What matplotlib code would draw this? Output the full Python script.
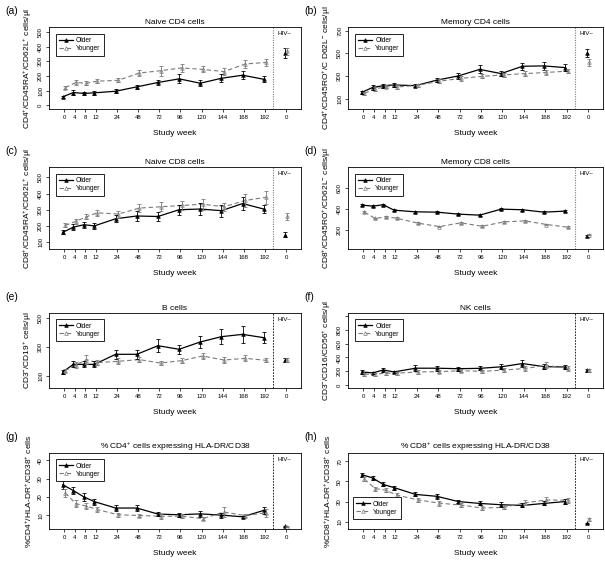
import numpy as np
import matplotlib
matplotlib.use('Agg')
from matplotlib import pyplot as plt

plt.rcParams['font.family'] = ['Liberation Sans', 'DejaVu Sans']
plt.rcParams['mathtext.default'] = 'regular'

weeks = [0, 4, 8, 12, 24, 48, 72, 96, 120, 144, 168, 192]
week_labels = [str(w) for w in weeks] + ['0']

# (a) naive CD4
naive_cd4_older = [57, 86, 80, 84, 95, 125, 155, 180, 150, 184, 205, 177, 359]
naive_cd4_older_se = [8, 15, 12, 12, 12, 15, 20, 30, 22, 28, 28, 20, 35]
naive_cd4_younger = [120, 155, 150, 164, 170, 220, 236, 255, 245, 230, 282, 293, 368]
naive_cd4_younger_se = [12, 18, 15, 15, 15, 20, 35, 25, 20, 22, 25, 22, 25]

# (b) memory CD4
mem_cd4_older = [155, 198, 214, 220, 214, 263, 300, 358, 321, 386, 389, 374, 500]
mem_cd4_older_se = [12, 20, 18, 20, 15, 20, 25, 35, 20, 30, 35, 30, 35]
mem_cd4_younger = [146, 186, 205, 202, 217, 254, 278, 297, 309, 321, 331, 343, 420]
mem_cd4_younger_se = [12, 15, 15, 15, 15, 18, 20, 18, 20, 22, 25, 20, 30]

# (c) naive CD8
naive_cd8_older = [160, 192, 207, 200, 244, 261, 258, 300, 304, 294, 338, 304, 145]
naive_cd8_older_se = [12, 18, 20, 20, 22, 28, 28, 30, 35, 38, 40, 25, 15]
naive_cd8_younger = [203, 228, 256, 281, 273, 310, 318, 326, 334, 318, 357, 377, 258]
naive_cd8_younger_se = [12, 15, 15, 18, 22, 25, 28, 30, 35, 25, 40, 40, 20]

# (d) memory CD8
mem_cd8_older = [439, 429, 442, 390, 374, 371, 352, 342, 400, 394, 371, 381, 140]
mem_cd8_older_se = [10, 10, 10, 8, 8, 8, 8, 8, 10, 10, 8, 8, 8]
mem_cd8_younger = [371, 310, 326, 313, 265, 232, 268, 235, 277, 287, 252, 226, 155]
mem_cd8_younger_se = [8, 8, 8, 8, 8, 8, 8, 8, 8, 8, 8, 8, 8]

# (e) B cells
b_older = [126, 179, 179, 179, 249, 249, 309, 284, 335, 372, 388, 365, 207]
b_older_se = [12, 20, 20, 20, 30, 30, 45, 30, 45, 50, 60, 40, 15]
b_younger = [135, 174, 212, 191, 200, 212, 188, 205, 237, 209, 221, 207, 207]
b_younger_se = [12, 20, 30, 20, 20, 20, 15, 20, 20, 20, 20, 15, 15]

# (f) NK cells
nk_older = [191, 177, 220, 191, 245, 245, 238, 243, 265, 312, 268, 262, 212]
nk_older_se = [25, 20, 35, 20, 40, 35, 30, 30, 35, 45, 35, 30, 15]
nk_younger = [159, 159, 173, 173, 191, 195, 209, 200, 218, 241, 286, 241, 212]
nk_younger_se = [20, 20, 20, 20, 25, 25, 25, 20, 25, 30, 45, 30, 15]

# (g) % CD4 HLA-DR/CD38
act_cd4_older = [26.7, 23.5, 20.0, 17.4, 13.9, 13.9, 10.6, 10.2, 10.7, 10.0, 9.1, 12.6, 3.9]
act_cd4_older_se = [2.2, 2.0, 2.0, 1.6, 1.4, 1.5, 1.0, 1.0, 1.5, 1.3, 0.6, 1.8, 0.3]
act_cd4_younger = [22.2, 16.3, 15.0, 13.1, 10.2, 9.8, 9.4, 9.4, 8.1, 11.7, 9.8, 11.3, 3.7]
act_cd4_younger_se = [2.0, 2.0, 1.6, 1.5, 1.0, 1.0, 1.5, 1.0, 1.0, 2.8, 0.8, 2.2, 0.3]

# (h) % CD8 HLA-DR/CD38
act_cd8_older = [56.8, 53.5, 47.0, 43.9, 37.1, 35.2, 30.0, 28.1, 26.8, 26.1, 28.1, 30.0, 8.4]
act_cd8_older_se = [2.0, 1.8, 2.0, 2.0, 2.0, 2.5, 1.8, 2.0, 2.5, 2.0, 2.0, 2.5, 0.6]
act_cd8_younger = [52.3, 42.9, 41.3, 36.5, 31.6, 28.4, 26.5, 23.5, 24.2, 28.7, 31.6, 31.3, 12.3]
act_cd8_younger_se = [2.0, 2.0, 2.0, 2.5, 2.0, 2.5, 1.8, 1.8, 2.0, 2.5, 2.5, 2.5, 1.5]

panels = [
    ('(a)', 'Naive CD4 cells', r'CD4$^{+}$/CD45RA$^{+}$/CD62L$^{+}$ cells/µl',
     naive_cd4_older, naive_cd4_older_se, naive_cd4_younger, naive_cd4_younger_se,
     [0, 100, 200, 300, 400, 500], (-27, 536), 'upper left'),
    ('(b)', 'Memory CD4 cells', r'CD4$^{+}$/CD45RO$^{+}$/C D62L$^{-}$ cells/µl',
     mem_cd4_older, mem_cd4_older_se, mem_cd4_younger, mem_cd4_younger_se,
     [100, 300, 500, 700], (7, 734), 'upper left'),
    ('(c)', 'Naive CD8 cells', r'CD8$^{+}$/CD45RA$^{+}$/CD62L$^{+}$ cells/µl',
     naive_cd8_older, naive_cd8_older_se, naive_cd8_younger, naive_cd8_younger_se,
     [100, 200, 300, 400, 500], (57, 564), 'upper left'),
    ('(d)', 'Memory CD8 cells', r'CD8$^{+}$/CD45RO$^{+}$/CD62L$^{-}$ cells/µl',
     mem_cd8_older, mem_cd8_older_se, mem_cd8_younger, mem_cd8_younger_se,
     [200, 400, 600], (16, 806), 'upper left'),
    ('(e)', 'B cells', r'CD3$^{-}$/CD19$^{+}$ cells/µl',
     b_older, b_older_se, b_younger, b_younger_se,
     [100, 300, 500], (14, 537), 'upper left'),
    ('(f)', 'NK cells', r'CD3$^{-}$/CD16/CD56$^{+}$ cells/µl',
     nk_older, nk_older_se, nk_younger, nk_younger_se,
     [0, 200, 400, 600, 800, 1000], (-40, 1040), 'upper left'),
    ('(g)', r'% CD4$^{+}$ cells expressing HLA-DR/CD38', r'%CD4$^{+}$/HLA-DR$^{+}$/CD38$^{+}$ cells',
     act_cd4_older, act_cd4_older_se, act_cd4_younger, act_cd4_younger_se,
     [10, 20, 30, 40], (2.4, 44.1), 'upper left'),
    ('(h)', r'% CD8$^{+}$ cells expressing HLA-DR/CD38', r'%CD8$^{+}$/HLA-DR$^{+}$/CD38$^{+}$ cells',
     act_cd8_older, act_cd8_older_se, act_cd8_younger, act_cd8_younger_se,
     [10, 30, 50, 70], (2.6, 78.4), 'lower left'),
]

W, H = 605, 567
fig = plt.figure(figsize=(W / 100, H / 100), dpi=100)

col_x = [(49, 301), (348, 603)]
row_y = [(27, 109), (167, 249), (313, 388), (453, 529)]

# uneven week axis: first four visits one unit apart, then two units
xpos = np.r_[np.arange(4), np.arange(5, 20, 2), 21]
grey = '#7a7a7a'

for i, (letter, title, ylab, yo, yo_se, yy, yy_se, yticks, ylim, legloc) in enumerate(panels):
    r, c = i // 2, i % 2
    x0, x1 = col_x[c]
    top, bot = row_y[r]
    ax = fig.add_axes([x0 / W, 1 - bot / H, (x1 - x0) / W, (bot - top) / H])

    yo = np.array(yo); yy = np.array(yy)
    xo = xpos - 0.12
    xy = xpos + 0.12

    # lines (study weeks only), HIV- point separate
    lo, = ax.plot(xo[:-1], yo[:-1], '-', color='black', lw=0.9,
                  marker='^', ms=2.6, mfc='black', mec='black', mew=0.5)
    ly, = ax.plot(xy[:-1], yy[:-1], '--', color=grey, lw=0.8, dashes=(4, 2.5),
                  marker='^', ms=2.6, mfc='white', mec=grey, mew=0.5)
    ax.plot(xo[-1:], yo[-1:], '^', color='black', ms=2.6, mew=0.5)
    ax.plot(xy[-1:], yy[-1:], '^', mfc='white', mec=grey, ms=2.6, mew=0.5)
    ax.errorbar(xo, yo, yerr=yo_se, fmt='none', ecolor='black', elinewidth=0.6,
                capsize=1.2, capthick=0.6)
    ax.errorbar(xy, yy, yerr=yy_se, fmt='none', ecolor=grey, elinewidth=0.6,
                capsize=1.2, capthick=0.6)

    if r < 2:
        ax.axvline(19.8, color=grey, lw=0.8, ls=(0, (1, 1.2)))
    else:
        ax.axvline(19.8, color='black', lw=0.6, ls=(0, (2, 1.5)))
    ax.text(20.2, 0.95, 'HIV–', transform=ax.get_xaxis_transform(),
            ha='left', va='top', fontsize=4.5)

    ax.set_xlim(-1.42, 22.4)
    ax.set_ylim(*ylim)
    ax.set_xticks(xpos)
    ax.set_xticklabels(week_labels)
    ax.set_yticks(yticks)
    ylabels = [str(t) for t in yticks]
    if letter == '(f)':
        ylabels[-1] = ''
    ax.set_yticklabels(ylabels, rotation=90, va='center')
    ax.tick_params(labelsize=4.3, length=2.2, width=0.5, pad=2, direction='out')
    for s in ax.spines.values():
        s.set_linewidth(0.6)

    ax.set_title(title, fontsize=6, pad=2.5)
    ax.set_xlabel('Study week', fontsize=6, labelpad=7.5)
    ax.set_ylabel(ylab, fontsize=6, labelpad=3)

    if legloc == 'upper left':
        anchor = (0.028, 0.915)
    else:
        anchor = (0.02, 0.13)
    leg = ax.legend([lo, ly], ['Older', 'Younger'], loc=legloc, bbox_to_anchor=anchor,
                    fontsize=4.8, frameon=True, fancybox=False, framealpha=1,
                    edgecolor='black', borderpad=0.5, handlelength=2.0,
                    handletextpad=0.5, labelspacing=0.15, borderaxespad=0)
    leg.get_frame().set_linewidth(0.6)

    fig.text((x0 - 44) / W, 1 - (top - 16) / H, letter, fontsize=7.5,
             ha='left', va='center')

fig.savefig('out.png', dpi=100)
